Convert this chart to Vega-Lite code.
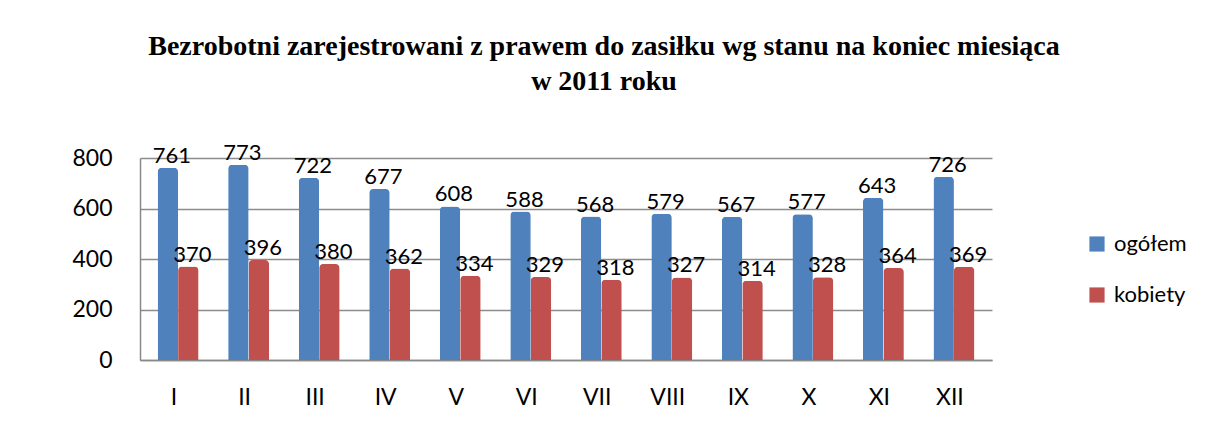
{
  "$schema": "https://vega.github.io/schema/vega-lite/v6.json",
  "width": 852,
  "height": 202,
  "autosize": {"type": "none"},
  "padding": {"left": 140, "top": 158, "right": 214, "bottom": 70},
  "background": "white",
  "title": {
    "text": ["Bezrobotni zarejestrowani z prawem do zasiłku wg stanu na koniec miesiąca", "w 2011 roku"],
    "font": "Liberation Serif",
    "fontSize": 28,
    "fontWeight": "bold",
    "color": "#000000",
    "lineHeight": 35,
    "dx": 38,
    "offset": 46
  },
  "data": {
    "values": [
      {"m": "I", "s": "ogółem", "v": 761}, {"m": "I", "s": "kobiety", "v": 370},
      {"m": "II", "s": "ogółem", "v": 773}, {"m": "II", "s": "kobiety", "v": 396},
      {"m": "III", "s": "ogółem", "v": 722}, {"m": "III", "s": "kobiety", "v": 380},
      {"m": "IV", "s": "ogółem", "v": 677}, {"m": "IV", "s": "kobiety", "v": 362},
      {"m": "V", "s": "ogółem", "v": 608}, {"m": "V", "s": "kobiety", "v": 334},
      {"m": "VI", "s": "ogółem", "v": 588}, {"m": "VI", "s": "kobiety", "v": 329},
      {"m": "VII", "s": "ogółem", "v": 568}, {"m": "VII", "s": "kobiety", "v": 318},
      {"m": "VIII", "s": "ogółem", "v": 579}, {"m": "VIII", "s": "kobiety", "v": 327},
      {"m": "IX", "s": "ogółem", "v": 567}, {"m": "IX", "s": "kobiety", "v": 314},
      {"m": "X", "s": "ogółem", "v": 577}, {"m": "X", "s": "kobiety", "v": 328},
      {"m": "XI", "s": "ogółem", "v": 643}, {"m": "XI", "s": "kobiety", "v": 364},
      {"m": "XII", "s": "ogółem", "v": 726}, {"m": "XII", "s": "kobiety", "v": 369}
    ]
  },
  "encoding": {
    "x": {
      "field": "m", "type": "nominal", "sort": null,
      "scale": {"paddingInner": 0.42, "paddingOuter": 0.25},
      "axis": {"title": null, "labelAngle": 0, "labelFont": "Lato", "labelFontSize": 23, "labelColor": "#000000", "labelPadding": 26, "labelOffset": -4, "ticks": false, "domainColor": "#888888", "domainWidth": 1.5}
    },
    "xOffset": {"field": "s", "type": "nominal", "sort": ["ogółem", "kobiety"]},
    "y": {
      "field": "v", "type": "quantitative",
      "scale": {"domain": [0, 800]},
      "axis": {"title": null, "values": [0, 200, 400, 600, 800], "labelFont": "Lato", "labelFontSize": 23, "labelColor": "#000000", "labelPadding": 28, "ticks": false, "grid": true, "gridColor": "#8c8c8c", "gridWidth": 1.5, "domainColor": "#888888", "domainWidth": 1.5}
    }
  },
  "layer": [
    {
      "mark": {"type": "bar", "cornerRadiusTopLeft": 4, "cornerRadiusTopRight": 4},
      "encoding": {
        "color": {
          "field": "s", "type": "nominal",
          "scale": {"domain": ["ogółem", "kobiety"], "range": ["#4F81BD", "#C0504D"]},
          "legend": {"title": null, "orient": "none", "legendX": 946, "legendY": 75, "labelFont": "Lato", "labelFontSize": 22, "labelColor": "#000000", "symbolType": "square", "symbolSize": 230, "symbolStrokeWidth": 0, "rowPadding": 29, "labelOffset": 6}
        }
      }
    },
    {
      "mark": {"type": "text", "baseline": "bottom", "dy": 0, "dx": 4, "font": "Lato", "fontSize": 22, "color": "#000000"},
      "encoding": {"text": {"field": "v", "type": "quantitative"}}
    }
  ],
  "config": {"view": {"stroke": null}}
}
